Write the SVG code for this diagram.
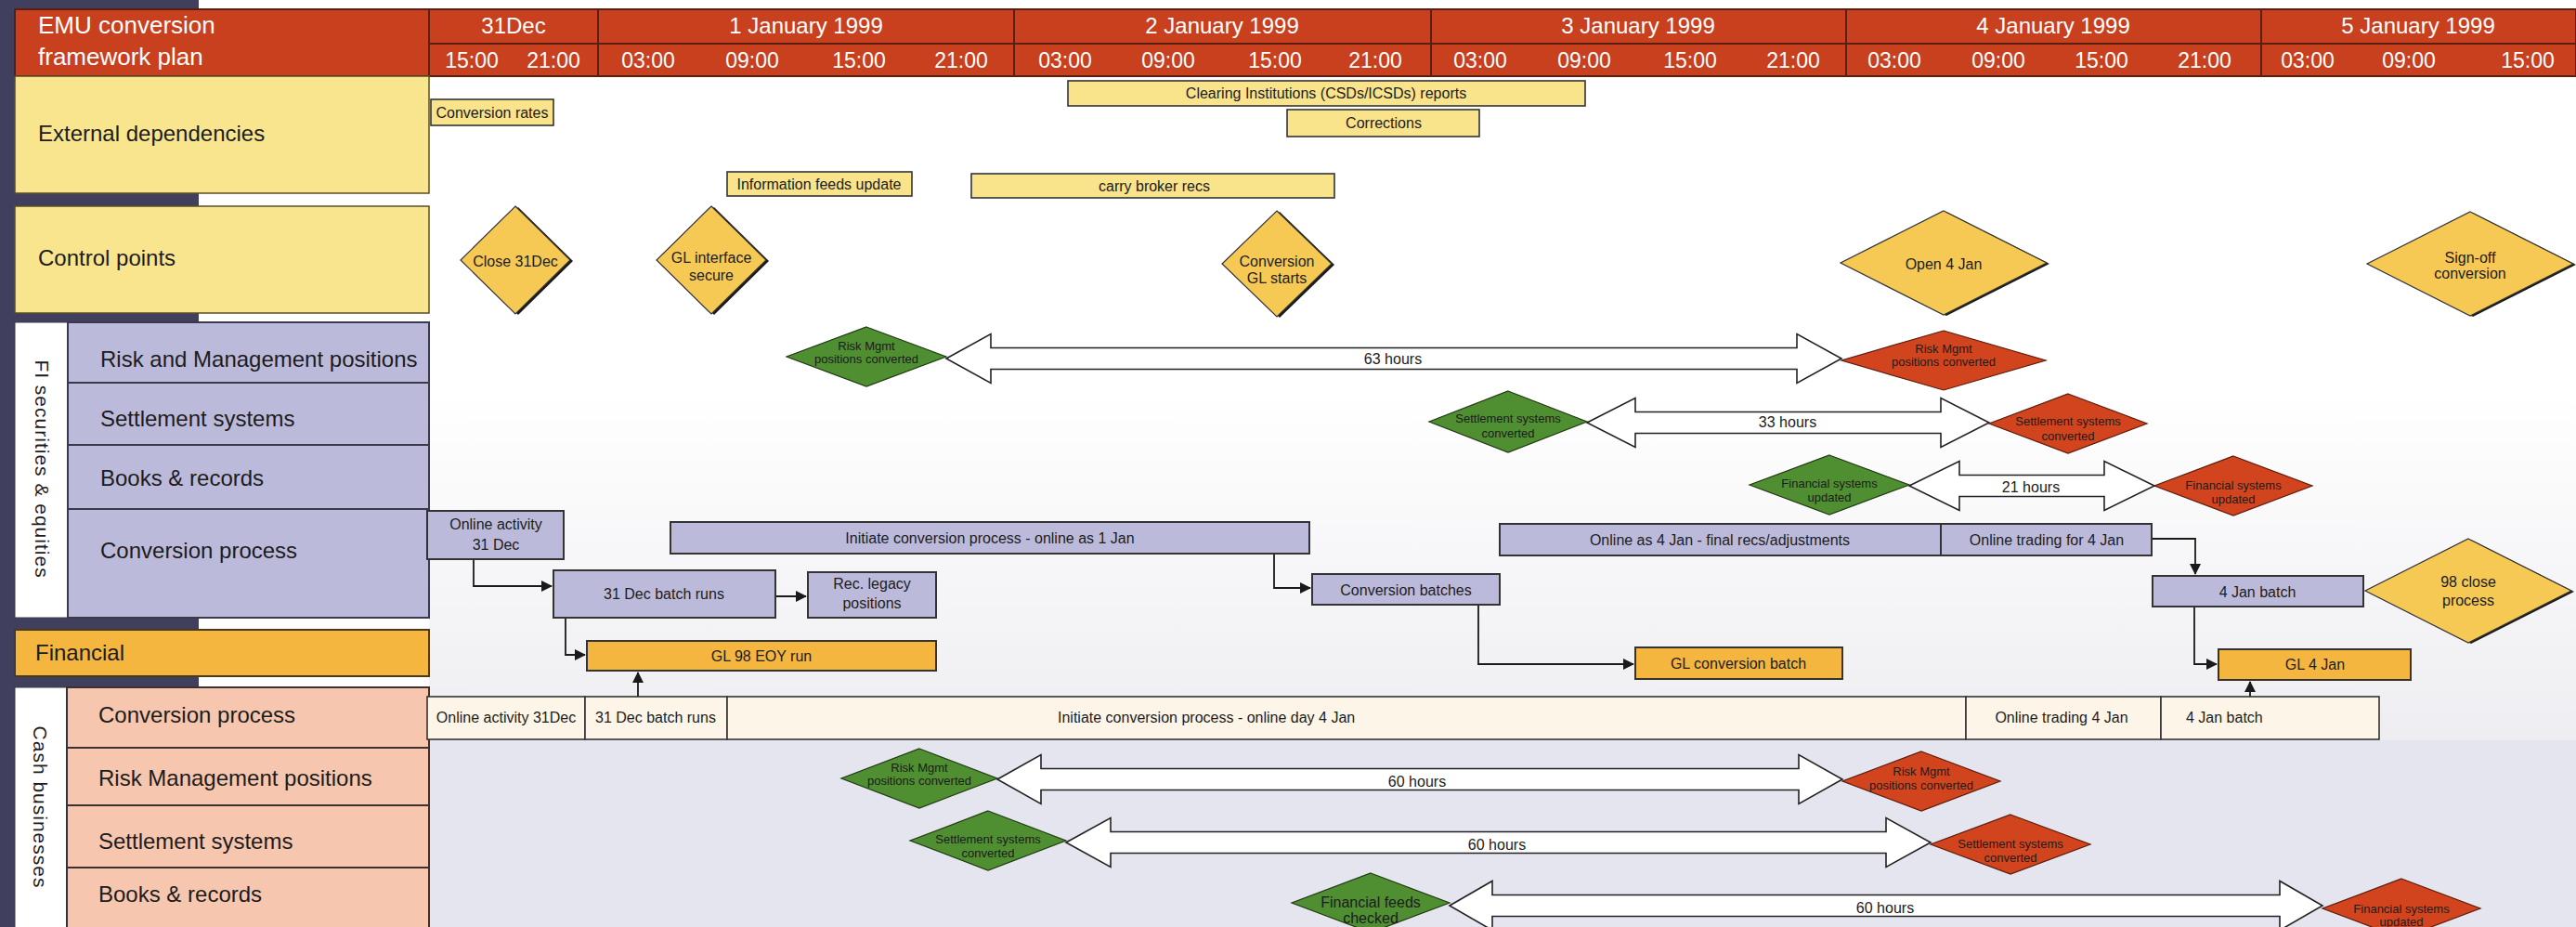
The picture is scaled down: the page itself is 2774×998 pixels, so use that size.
<svg xmlns="http://www.w3.org/2000/svg" width="2774" height="998" viewBox="0 0 2774 998">
<defs>
<marker id="ah" markerWidth="12" markerHeight="12" refX="11" refY="6" orient="auto" markerUnits="userSpaceOnUse"><path d="M0,0 L12,6 L0,12 z" fill="#1a1a1a"/></marker>
<linearGradient id="bg" x1="0" y1="0" x2="0" y2="1"><stop offset="0" stop-color="#ffffff"/><stop offset="1" stop-color="#eeeef2"/></linearGradient>
<style>
text{font-family:"Liberation Sans",Arial,sans-serif;fill:#1c1c1c}
.hdr{fill:#c9401f;stroke:#5b1e10;stroke-width:2}
.hl{stroke:#5b1e10;stroke-width:2}
.ht{fill:#fff;font-size:26px}
.dy{fill:#fff;font-size:24px;text-anchor:middle}
.tm{fill:#fff;font-size:23px;text-anchor:middle}
.lbl{font-size:24px}
.rot{font-size:21px;text-anchor:middle;letter-spacing:1px}
.ypan{fill:#f9e58e;stroke:#5a4d25;stroke-width:1.5}
.lpan{fill:#bcbadb;stroke:#3a3a4a;stroke-width:2}
.span{fill:#f7c6ae;stroke:#3d3030;stroke-width:2}
.opan{fill:#f5b640;stroke:#4a3a1a;stroke-width:2}
.wstrip{fill:#fff;stroke:#3a3a4a;stroke-width:1}
.yb{fill:#f9e38b;stroke:#333;stroke-width:1.6}
.lb{fill:#bcbadb;stroke:#333;stroke-width:2}
.ob{fill:#f5b640;stroke:#333;stroke-width:2}
.cb{fill:#fdf5e8;stroke:#333;stroke-width:1.6}
.bt{font-size:16px;text-anchor:middle}
.bts{font-size:16px}
.cp{fill:#f6c955;stroke:#333;stroke-width:1.2}
.sh{fill:#1a1a1a}
.gd{fill:#4f8e31;stroke:#1f3a10;stroke-width:1.2}
.rd{fill:#d2441d;stroke:#5a1a0a;stroke-width:1.2}
.dt{font-size:13px;text-anchor:middle}
.dbl{fill:#fff;stroke:#222;stroke-width:1.6}
.con{fill:none;stroke:#1a1a1a;stroke-width:1.8;marker-end:url(#ah)}
</style>
</defs>
<rect x="0" y="0" width="2774" height="998" fill="#fff"/>
<rect x="462" y="420" width="2312" height="377" fill="url(#bg)"/>
<rect x="462" y="797" width="2312" height="201" fill="#e5e5ef"/>
<rect x="0" y="0" width="214" height="998" fill="#40405e"/>

<g id="header">
<rect class="hdr" x="16" y="10" width="446" height="72"/>
<text class="ht" x="41" y="36">EMU conversion</text>
<text class="ht" x="41" y="70">framework plan</text>
<rect class="hdr" x="462" y="10" width="2312" height="72"/>
<line class="hl" x1="462" y1="47" x2="2774" y2="47"/>
<line class="hl" x1="644" y1="10" x2="644" y2="82"/>
<line class="hl" x1="1092" y1="10" x2="1092" y2="82"/>
<line class="hl" x1="1541" y1="10" x2="1541" y2="82"/>
<line class="hl" x1="1988" y1="10" x2="1988" y2="82"/>
<line class="hl" x1="2435" y1="10" x2="2435" y2="82"/>
<text class="dy" x="553" y="36">31Dec</text>
<text class="dy" x="868" y="36">1 January 1999</text>
<text class="dy" x="1316" y="36">2 January 1999</text>
<text class="dy" x="1764" y="36">3 January 1999</text>
<text class="dy" x="2211" y="36">4 January 1999</text>
<text class="dy" x="2604" y="36">5 January 1999</text>
<text class="tm" x="508" y="73">15:00</text>
<text class="tm" x="596" y="73">21:00</text>
<text class="tm" x="698" y="73">03:00</text>
<text class="tm" x="810" y="73">09:00</text>
<text class="tm" x="925" y="73">15:00</text>
<text class="tm" x="1035" y="73">21:00</text>
<text class="tm" x="1147" y="73">03:00</text>
<text class="tm" x="1258" y="73">09:00</text>
<text class="tm" x="1373" y="73">15:00</text>
<text class="tm" x="1481" y="73">21:00</text>
<text class="tm" x="1594" y="73">03:00</text>
<text class="tm" x="1706" y="73">09:00</text>
<text class="tm" x="1820" y="73">15:00</text>
<text class="tm" x="1931" y="73">21:00</text>
<text class="tm" x="2040" y="73">03:00</text>
<text class="tm" x="2152" y="73">09:00</text>
<text class="tm" x="2263" y="73">15:00</text>
<text class="tm" x="2374" y="73">21:00</text>
<text class="tm" x="2485" y="73">03:00</text>
<text class="tm" x="2594" y="73">09:00</text>
<text class="tm" x="2722" y="73">15:00</text>
</g>

<g id="lane-external">
<rect class="ypan" x="16" y="82" width="446" height="126"/>
<text class="lbl" x="41" y="152">External dependencies</text>
</g>
<g id="lane-control">
<rect class="ypan" x="16" y="222" width="446" height="115"/>
<text class="lbl" x="41" y="286">Control points</text>
</g>
<g id="lane-fi">
<rect class="wstrip" x="16" y="347" width="57" height="318"/>
<text class="rot" transform="translate(38,505) rotate(90)">FI securities &amp; equities</text>
<rect class="lpan" x="73" y="347" width="389" height="65"/>
<rect class="lpan" x="73" y="412" width="389" height="67"/>
<rect class="lpan" x="73" y="479" width="389" height="69"/>
<rect class="lpan" x="73" y="548" width="389" height="117"/>
<text class="lbl" x="108" y="395">Risk and Management positions</text>
<text class="lbl" x="108" y="459">Settlement systems</text>
<text class="lbl" x="108" y="523">Books &amp; records</text>
<text class="lbl" x="108" y="601">Conversion process</text>
</g>
<g id="lane-financial">
<rect class="opan" x="16" y="678" width="446" height="50"/>
<text class="lbl" x="38" y="711">Financial</text>
</g>
<g id="lane-cash">
<rect class="wstrip" x="16" y="740" width="56" height="260"/>
<text class="rot" transform="translate(36,869) rotate(90)">Cash businesses</text>
<rect class="span" x="72" y="740" width="390" height="65"/>
<rect class="span" x="72" y="805" width="390" height="62"/>
<rect class="span" x="72" y="867" width="390" height="67"/>
<rect class="span" x="72" y="934" width="390" height="66"/>
<text class="lbl" x="106" y="778">Conversion process</text>
<text class="lbl" x="106" y="846">Risk Management positions</text>
<text class="lbl" x="106" y="914">Settlement systems</text>
<text class="lbl" x="106" y="971">Books &amp; records</text>
</g>

<g id="connectors">
<path class="con" d="M510,602 V631 H594"/>
<path class="con" d="M835,642 H868"/>
<path class="con" d="M609,665 V705 H630"/>
<path class="con" d="M687,750 V724"/>
<path class="con" d="M1372,596 V633 H1411"/>
<path class="con" d="M1592,651 V715 H1759"/>
<path class="con" d="M2317,580 H2364 V618"/>
<path class="con" d="M2363,653 V715 H2387"/>
<path class="con" d="M2423,750 V734"/>
<polygon class="dbl" points="1019,386 1067,359.5 1067,374.5 1935,374.5 1935,359.5 1983,386 1935,412.5 1935,397.5 1067,397.5 1067,412.5"/>
<text class="bt" x="1500" y="392">63 hours</text>
<polygon class="dbl" points="1709,455 1761,428.5 1761,443.5 2090,443.5 2090,428.5 2142,455 2090,481.5 2090,466.5 1761,466.5 1761,481.5"/>
<text class="bt" x="1925" y="460">33 hours</text>
<polygon class="dbl" points="2056,523 2110,496.5 2110,511.5 2266,511.5 2266,496.5 2320,523 2266,549.5 2266,534.5 2110,534.5 2110,549.5"/>
<text class="bt" x="2187" y="530">21 hours</text>
<polygon class="dbl" points="1074,839 1121,812.5 1121,827.5 1937,827.5 1937,812.5 1984,839 1937,865.5 1937,850.5 1121,850.5 1121,865.5"/>
<text class="bt" x="1526" y="847">60 hours</text>
<polygon class="dbl" points="1148,907 1196,880.5 1196,895.5 2031,895.5 2031,880.5 2079,907 2031,933.5 2031,918.5 1196,918.5 1196,933.5"/>
<text class="bt" x="1612" y="915">60 hours</text>
<polygon class="dbl" points="1561,975 1607,948.5 1607,963.5 2455,963.5 2455,948.5 2501,975 2455,1001.5 2455,986.5 1607,986.5 1607,1001.5"/>
<text class="bt" x="2030" y="983">60 hours</text>
</g>

<g id="conversion-rates"><rect class="yb" x="464" y="107" width="132" height="28"/><text class="bt" x="530" y="127">Conversion rates</text></g>
<g id="clearing-reports"><rect class="yb" x="1150" y="87" width="557" height="27"/><text class="bt" x="1428" y="106">Clearing Institutions (CSDs/ICSDs) reports</text></g>
<g id="corrections"><rect class="yb" x="1386" y="118" width="207" height="29"/><text class="bt" x="1490" y="138">Corrections</text></g>
<g id="info-feeds"><rect class="yb" x="783" y="185" width="199" height="26"/><text class="bt" x="882" y="204">Information feeds update</text></g>
<g id="carry-broker"><rect class="yb" x="1046" y="187" width="391" height="26"/><text class="bt" x="1243" y="206">carry broker recs</text></g>

<g id="close-31dec"><polygon class="sh" points="558,223 617,281 558,339 499,281"/><polygon class="cp" points="555,222 614,280 555,338 496,280"/><text class="bt" x="555" y="287">Close 31Dec</text></g>
<g id="gl-interface"><polygon class="sh" points="769,223 828,281 769,339 710,281"/><polygon class="cp" points="766,222 825,280 766,338 707,280"/><text class="bt" x="766" y="283">GL interface</text><text class="bt" x="766" y="302">secure</text></g>
<g id="conversion-gl"><polygon class="sh" points="1378,228 1437,285 1378,342 1319,285"/><polygon class="cp" points="1375,227 1434,284 1375,341 1316,284"/><text class="bt" x="1375" y="287">Conversion</text><text class="bt" x="1375" y="305">GL starts</text></g>
<g id="open-4jan"><polygon class="sh" points="2096,228 2207,284 2096,340 1985,284"/><polygon class="cp" points="2093,227 2204,283 2093,339 1982,283"/><text class="bt" x="2093" y="290">Open 4 Jan</text></g>
<g id="sign-off"><polygon class="sh" points="2663,229 2774,285 2663,341 2552,285"/><polygon class="cp" points="2660,228 2771,284 2660,340 2549,284"/><text class="bt" x="2660" y="283">Sign-off</text><text class="bt" x="2660" y="300">conversion</text></g>
<g id="close-98"><polygon class="sh" points="2661,581 2772,637 2661,693 2550,637"/><polygon class="cp" points="2658,580 2769,636 2658,692 2547,636"/><text class="bt" x="2658" y="632">98 close</text><text class="bt" x="2658" y="652">process</text></g>

<g id="fi-risk-start"><polygon class="gd" points="933,352 1019,384 933,416 847,384"/><text class="dt" x="933" y="377">Risk Mgmt</text><text class="dt" x="933" y="391">positions converted</text></g>
<g id="fi-risk-end"><polygon class="rd" points="2093,356 2203,388 2093,420 1983,388"/><text class="dt" x="2093" y="380">Risk Mgmt</text><text class="dt" x="2093" y="394">positions converted</text></g>
<g id="fi-settle-start"><polygon class="gd" points="1624,421 1709,454 1624,487 1539,454"/><text class="dt" x="1624" y="455">Settlement systems</text><text class="dt" x="1624" y="471">converted</text></g>
<g id="fi-settle-end"><polygon class="rd" points="2227,424 2312,456 2227,488 2142,456"/><text class="dt" x="2227" y="458">Settlement systems</text><text class="dt" x="2227" y="474">converted</text></g>
<g id="fi-fin-start"><polygon class="gd" points="1970,490 2056,522 1970,554 1884,522"/><text class="dt" x="1970" y="525">Financial systems</text><text class="dt" x="1970" y="540">updated</text></g>
<g id="fi-fin-end"><polygon class="rd" points="2405,491 2490,523 2405,555 2320,523"/><text class="dt" x="2405" y="527">Financial systems</text><text class="dt" x="2405" y="542">updated</text></g>

<g id="online-31dec"><rect class="lb" x="460" y="550" width="147" height="52"/><text class="bt" x="534" y="570">Online activity</text><text class="bt" x="534" y="592">31 Dec</text></g>
<g id="batch-31dec"><rect class="lb" x="596" y="614" width="239" height="51"/><text class="bt" x="715" y="645">31 Dec batch runs</text></g>
<g id="rec-legacy"><rect class="lb" x="870" y="616" width="138" height="49"/><text class="bt" x="939" y="634">Rec. legacy</text><text class="bt" x="939" y="655">positions</text></g>
<g id="initiate-1jan"><rect class="lb" x="722" y="562" width="688" height="34"/><text class="bt" x="1066" y="585">Initiate conversion process - online as 1 Jan</text></g>
<g id="conversion-batches"><rect class="lb" x="1413" y="618" width="202" height="33"/><text class="bt" x="1514" y="641">Conversion batches</text></g>
<g id="online-4jan-final"><rect class="lb" x="1615" y="564" width="475" height="34"/><text class="bt" x="1852" y="587">Online as 4 Jan - final recs/adjustments</text></g>
<g id="online-trading-4jan"><rect class="lb" x="2090" y="564" width="227" height="34"/><text class="bt" x="2204" y="587">Online trading for 4 Jan</text></g>
<g id="batch-4jan"><rect class="lb" x="2318" y="620" width="227" height="33"/><text class="bt" x="2431" y="643">4 Jan batch</text></g>

<g id="gl-98-eoy"><rect class="ob" x="632" y="690" width="376" height="32"/><text class="bt" x="820" y="712">GL 98 EOY run</text></g>
<g id="gl-conversion"><rect class="ob" x="1761" y="697" width="223" height="34"/><text class="bt" x="1872" y="720">GL conversion batch</text></g>
<g id="gl-4jan"><rect class="ob" x="2389" y="699" width="207" height="33"/><text class="bt" x="2493" y="721">GL 4 Jan</text></g>

<g id="cash-conversion-bar">
<rect class="cb" x="460" y="750" width="170" height="46"/><text class="bt" x="545" y="778">Online activity 31Dec</text>
<rect class="cb" x="630" y="750" width="153" height="46"/><text class="bt" x="706" y="778">31 Dec batch runs</text>
<rect class="cb" x="783" y="750" width="1334" height="46"/><text class="bts" x="1139" y="778">Initiate conversion process - online day 4 Jan</text>
<rect class="cb" x="2117" y="750" width="210" height="46"/><text class="bt" x="2220" y="778">Online trading 4 Jan</text>
<rect class="cb" x="2327" y="750" width="235" height="46"/><text class="bts" x="2354" y="778">4 Jan batch</text>
</g>

<g id="cash-risk-start"><polygon class="gd" points="990,806 1074,838 990,870 906,838"/><text class="dt" x="990" y="831">Risk Mgmt</text><text class="dt" x="990" y="845">positions converted</text></g>
<g id="cash-risk-end"><polygon class="rd" points="2069,809 2154,841 2069,873 1984,841"/><text class="dt" x="2069" y="835">Risk Mgmt</text><text class="dt" x="2069" y="850">positions converted</text></g>
<g id="cash-settle-start"><polygon class="gd" points="1064,873 1148,905 1064,937 980,905"/><text class="dt" x="1064" y="908">Settlement systems</text><text class="dt" x="1064" y="923">converted</text></g>
<g id="cash-settle-end"><polygon class="rd" points="2165,877 2251,909 2165,941 2079,909"/><text class="dt" x="2165" y="913">Settlement systems</text><text class="dt" x="2165" y="928">converted</text></g>
<g id="cash-fin-start"><polygon class="gd" points="1476,940 1561,972 1476,1004 1391,972"/><text class="bt" x="1476" y="977">Financial feeds</text><text class="bt" x="1476" y="994">checked</text></g>
<g id="cash-fin-end"><polygon class="rd" points="2586,946 2671,978 2586,1010 2501,978"/><text class="dt" x="2586" y="983">Financial systems</text><text class="dt" x="2586" y="997">updated</text></g>
</svg>
